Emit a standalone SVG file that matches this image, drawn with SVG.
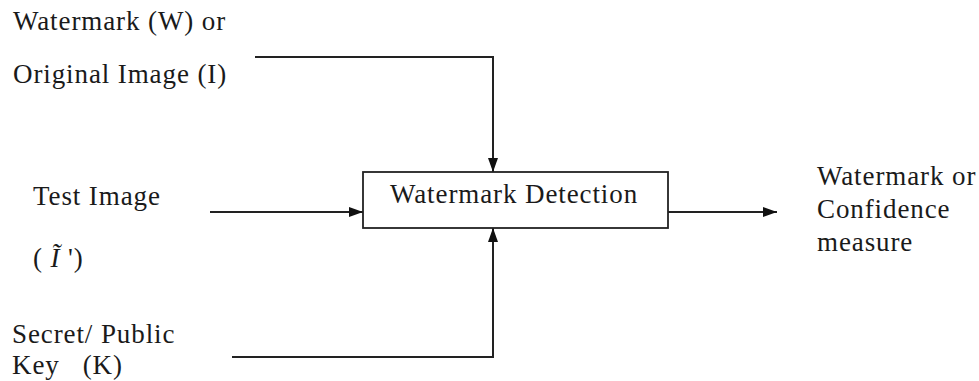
<svg xmlns="http://www.w3.org/2000/svg" width="979" height="381" viewBox="0 0 979 381">
<style>
text{font-family:"Liberation Serif","Tinos","Times New Roman","DejaVu Serif",serif;font-size:27px;fill:#1a1a1a;letter-spacing:0.9px}
.ln{fill:none;stroke:#222;stroke-width:2}
.box{fill:#fff;stroke:#222;stroke-width:1.8}
</style>
<defs>
<marker id="ah" viewBox="0 0 14 10" refX="14" refY="5" markerWidth="14" markerHeight="10" markerUnits="userSpaceOnUse" orient="auto">
<path d="M0,0 L14,5 L0,10 Z" fill="#111"/>
</marker>
</defs>
<rect width="979" height="381" fill="#fff"/>
<g id="connectors">
<path class="ln" d="M255,57 H493 V172" marker-end="url(#ah)"/>
<path class="ln" d="M210,212 H363" marker-end="url(#ah)"/>
<path class="ln" d="M232,357 H493 V228" marker-end="url(#ah)"/>
<path class="ln" d="M668,212 H777" marker-end="url(#ah)"/>
</g>
<g id="detection">
<rect class="box" x="363" y="172" width="305" height="56"/>
<text x="390" y="203">Watermark Detection</text>
</g>
<g id="watermark-input">
<text x="13" y="30">Watermark (W) or</text>
<text x="13" y="83">Original Image (I)</text>
</g>
<g id="test-image">
<text x="33" y="205">Test Image</text>
<text x="33" y="267">( <tspan font-style="italic">Ĩ</tspan> ')</text>
</g>
<g id="key">
<text x="12" y="343">Secret/ Public</text>
<text x="12" y="374" xml:space="preserve">Key   (K)</text>
</g>
<g id="output">
<text x="817" y="185">Watermark or</text>
<text x="817" y="218">Confidence</text>
<text x="817" y="251">measure</text>
</g>
</svg>
